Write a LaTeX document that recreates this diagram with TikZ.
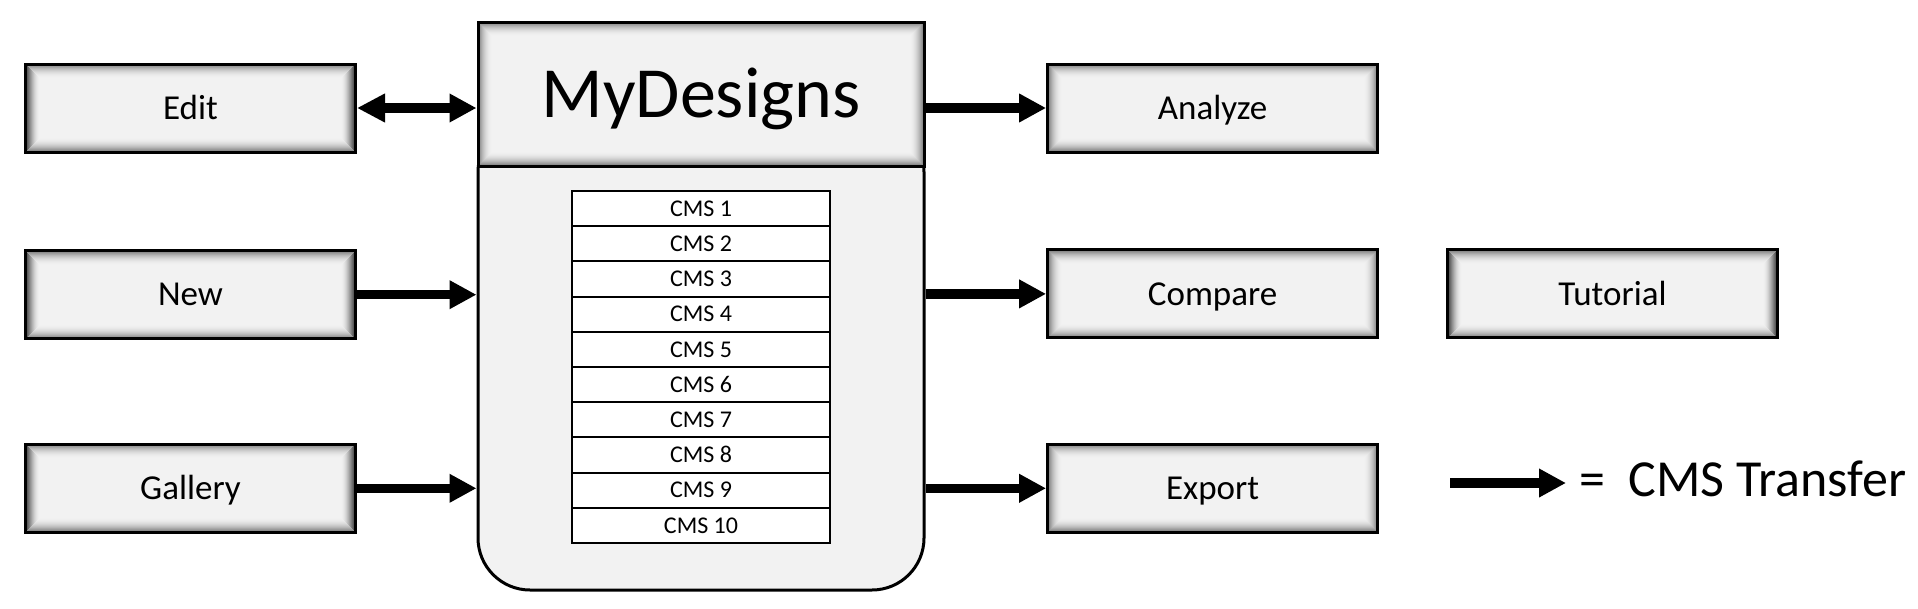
\documentclass[tikz,border=0pt]{standalone}
\usepackage{fontspec}
\setmainfont{Carlito}
\usetikzlibrary{arrows.meta}
\definecolor{boxgray}{HTML}{F2F2F2}
\tikzset{
  innershadow/.style={path picture={
    \foreach \d [evaluate=\d as \o using {0.42*(1-(\d-1.5)/13)^2}] in {1.5,2.5,...,13.5}
      \draw[line width=1.1pt, black, opacity=\o]
        ([shift={(\d pt,-\d pt)}]path picture bounding box.north west) rectangle
        ([shift={(-\d pt,\d pt)}]path picture bounding box.south east);
  }},
  sidebox/.style={draw, line width=3pt, fill=boxgray, innershadow,
    minimum width=330pt, minimum height=88pt, inner sep=0pt,
    font=\fontsize{35}{42}\selectfont, text height=22.5pt, text depth=0pt},
  headbox/.style={draw, line width=3pt, fill=boxgray, innershadow,
    minimum width=446pt, minimum height=144pt, inner sep=0pt,
    font=\fontsize{72}{84}\selectfont, text height=46pt, text depth=0pt},
  bodybox/.style={draw, line width=3pt, fill=boxgray, rounded corners=52pt,
    minimum width=446pt, minimum height=470pt, inner sep=0pt},
  cmsrow/.style={draw, line width=2pt, fill=white,
    minimum width=258pt, minimum height=35.2pt, inner sep=0pt,
    font=\fontsize{24}{28}\selectfont, text height=15.5pt, text depth=0pt},
  flow/.style={line width=9.5pt, -{Triangle[length=27pt,width=27pt]}},
  biflow/.style={line width=9.5pt, {Triangle[length=28pt,width=27pt]}-{Triangle[length=27pt,width=27pt]}},
  legendtext/.style={anchor=west, inner sep=0pt, font=\fontsize{52}{60}\selectfont,
    text height=33.5pt, text depth=0pt}
}
\begin{document}
\begin{tikzpicture}[x=1pt, y=-1pt]
  \useasboundingbox (0,0) rectangle (1918,608);
  \fill[white] (0,0) rectangle (1918,608);

  % central container
  \node[bodybox] (body) at (701,355) {};
  \node[headbox] (header) at (701,94.1) {MyDesigns};
  \foreach \i in {1,...,10}
    \node[cmsrow] (cms\i) at (701,{191+35.2*(\i-0.5)}) {CMS \i};

  % left boxes
  \node[sidebox] (edit) at (190.5,108) {Edit};
  \node[sidebox] (new) at (190.5,294.7) {New};
  \node[sidebox] (gallery) at (190.5,488.3) {Gallery};

  % right boxes
  \node[sidebox] (analyze) at (1212.6,108) {Analyze};
  \node[sidebox] (compare) at (1212.6,293.9) {Compare};
  \node[sidebox] (export) at (1212.6,488.3) {Export};
  \node[sidebox] (tutorial) at (1612.5,293.9) {Tutorial};

  % connectors
  \draw[biflow] (edit.east) -- (edit.east -| header.west);
  \draw[flow] (new.east) -- (new.east -| body.west);
  \draw[flow] (gallery.east) -- (gallery.east -| body.west);
  \draw[flow] (analyze.west -| header.east) -- (analyze.west);
  \draw[flow] (compare.west -| body.east) -- (compare.west);
  \draw[flow] (export.west -| body.east) -- (export.west);

  % legend
  \coordinate (legA) at (1450,483);
  \coordinate (legB) at (1566,483);
  \draw[flow] (legA) -- (legB);
  \node[legendtext] (legtext) at (1579,480) {=\ \ CMS Transfer};
\end{tikzpicture}
\end{document}
